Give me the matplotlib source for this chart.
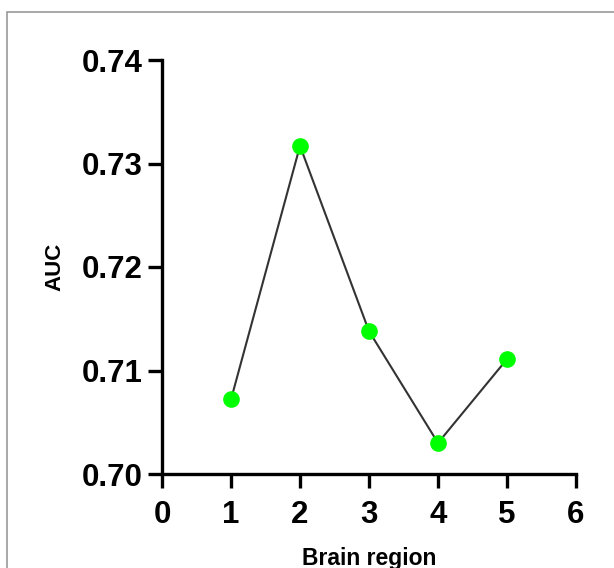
import matplotlib
matplotlib.use("Agg")
import matplotlib.pyplot as plt
from matplotlib.patches import Rectangle

# Values
regions = [1, 2, 3, 4, 5]
auc = [0.7072, 0.7317, 0.7138, 0.7030, 0.7111]
x_ticks = [0, 1, 2, 3, 4, 5, 6]
y_ticks = [0.70, 0.71, 0.72, 0.73, 0.74]

plt.rcParams['font.family'] = ['Liberation Sans', 'DejaVu Sans']

fig = plt.figure(figsize=(6.14, 5.68), dpi=100)
ax = fig.add_axes([162 / 614, 1 - 474 / 568, 414 / 614, 414 / 568])

# thin grey frame round the figure (runs off the right and bottom edges)
fig.add_artist(Rectangle((7 / 614, -0.1), 1.2, 1 - 12 / 568 + 0.1,
                         transform=fig.transFigure, fill=False,
                         edgecolor="#999999", linewidth=1.2))

ax.plot(regions, auc, color="#333333", linewidth=1.5, zorder=2)
ax.plot(regions, auc, linestyle="none", marker="o", markersize=12,
        color="#00ff00", markeredgewidth=0, zorder=3)

ax.set_xlim(0, 6)
ax.set_ylim(0.70, 0.74)
ax.set_xticks(x_ticks)
ax.set_yticks(y_ticks)
ax.set_yticklabels([f"{v:.2f}" for v in y_ticks])

for s in ["top", "right"]:
    ax.spines[s].set_visible(False)
for s in ["left", "bottom"]:
    ax.spines[s].set_linewidth(2.4)
ax.tick_params(width=2.4, length=10, labelsize=22.5)
ax.tick_params(axis="x", pad=9)
ax.tick_params(axis="y", pad=4)
for lab in ax.get_xticklabels() + ax.get_yticklabels():
    lab.set_fontweight("bold")

ax.set_ylabel("AUC", fontsize=16, fontweight="bold", labelpad=12)
ax.set_xlabel("Brain region", fontsize=16.5, fontweight="bold", labelpad=12)

fig.savefig("out.png", dpi=100)
